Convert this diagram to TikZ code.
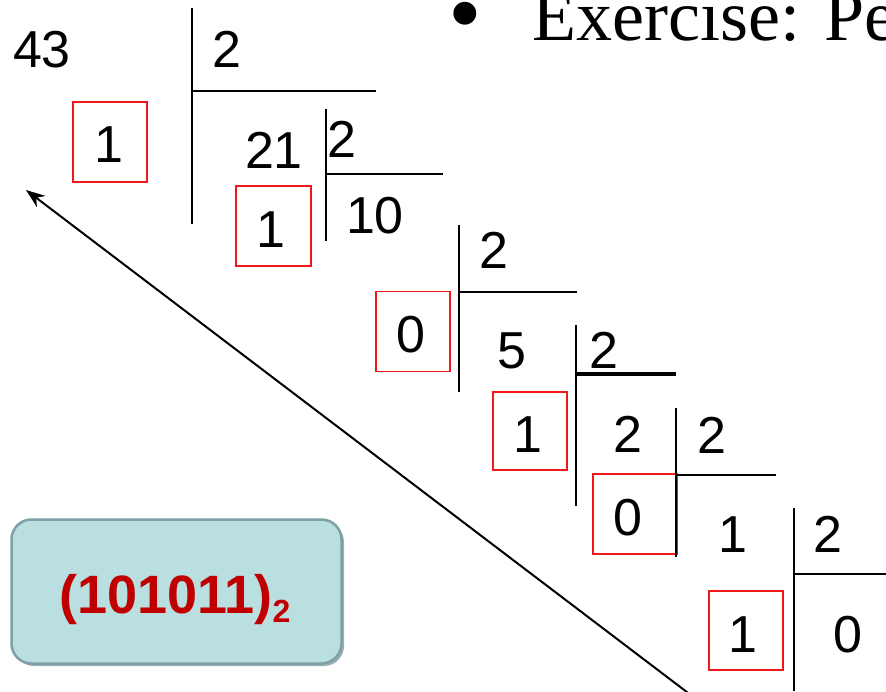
\documentclass[tikz,border=0pt]{standalone}
\usepackage{fontspec}
\setmainfont{Liberation Sans}
\newfontfamily\serifface{Liberation Serif}
\usetikzlibrary{arrows.meta,shadows}
\definecolor{resultred}{HTML}{C00000}
\definecolor{boxred}{HTML}{F01818}
\definecolor{resultfill}{HTML}{B9DFE0}
\definecolor{resultedge}{HTML}{7FA0A6}
\definecolor{resultshade}{HTML}{8FA7AB}
\begin{document}
\begin{tikzpicture}[x=1pt,y=-1pt,
  digit/.style={anchor=base,inner sep=0pt,font=\fontsize{52}{60}\selectfont},
  rembox/.style={draw=boxred,line width=1.8pt,minimum width=74pt,minimum height=80pt,inner sep=0pt},
  bar/.style={line width=2.2pt},
  thickbar/.style={line width=3.2pt},
  pointer/.style={line width=2pt,-{Stealth[length=19pt,width=14pt]}},
  resultbox/.style={draw=resultedge,line width=2.5pt,fill=resultfill,rounded corners=20pt,
    minimum width=330pt,minimum height=144pt,inner sep=0pt,
    drop shadow={shadow xshift=2.5pt,shadow yshift=-2.5pt,fill=resultshade,opacity=0.9}}]
\useasboundingbox (0,0) rectangle (886,691);
\fill[white] (0,0) rectangle (886,691);
\clip (0,0) rectangle (886,691);

% heading line, running off the right edge
\node[anchor=base,inner sep=0pt,font=\serifface\fontsize{96}{100}\selectfont] (bullet) at (465,45) {•};
\node[anchor=base west,inner sep=0pt,font=\serifface\fontsize{72}{80}\selectfont] (heading) at (532,40) {Exercise: Per};

% remainder boxes
\node[rembox] (b1) at (110,142) {};
\node[rembox,minimum width=75pt] (b2) at (273.5,226) {};
\node[rembox] (b3) at (413,331.5) {};
\node[rembox,minimum height=78pt] (b4) at (530,431) {};
\node[rembox,minimum width=84pt] (b5) at (635,514) {};
\node[rembox,minimum height=79pt] (b6) at (746,630.5) {};

% dividends, divisors and remainders
\node[digit] (n43) at (42,67) {43};
\node[digit] (d1) at (227,67) {2};
\node[digit] (r1) at (109,162) {1};

\node[digit] (n21) at (274,168) {21};
\node[digit] (d2) at (342,157) {2};
\node[digit] (r2) at (271,247) {1};

\node[digit] (n10) at (375,233) {10};
\node[digit] (d3) at (494,268) {2};
\node[digit] (r3) at (411,352) {0};

\node[digit] (n5) at (512,368) {5};
\node[digit] (d4) at (604,368) {2};
\node[digit] (r4) at (528,452) {1};

\node[digit] (n2) at (628,452) {2};
\node[digit] (d5) at (712,453) {2};
\node[digit] (r5) at (628,535) {0};

\node[digit] (n1) at (733,552) {1};
\node[digit] (d6) at (828,552) {2};
\node[digit] (r6) at (743,652) {1};

\node[digit] (n0) at (848,652) {0};

% division bars
\draw[bar] (192,8) -- (192,224);   \draw[bar] (192,91) -- (376,91);
\draw[bar] (326,109) -- (326,241); \draw[bar] (326,174) -- (443,174);
\draw[bar] (459,225) -- (459,392); \draw[bar] (459,292) -- (577,292);
\draw[bar] (576,325) -- (576,506); \draw[thickbar] (576,374) -- (676,374);
\draw[bar] (676,408) -- (676,557); \draw[bar] (676,475) -- (776,475);
\draw[bar] (794,508) -- (794,691); \draw[bar] (794,574) -- (886,574);

% reading direction of the remainders
\coordinate (tail) at (700,702);
\coordinate (tip) at (26,190);
\draw[pointer] (tail) -- (tip);

% result
\node[resultbox] (result) at (176.5,591.5) {};
\node[anchor=base,inner sep=0pt,text=resultred,font=\bfseries\fontsize{54}{60}\selectfont] (value) at (175,613)
  {(101011)\raisebox{-9pt}{\fontsize{32}{36}\selectfont 2}};
\end{tikzpicture}
\end{document}
